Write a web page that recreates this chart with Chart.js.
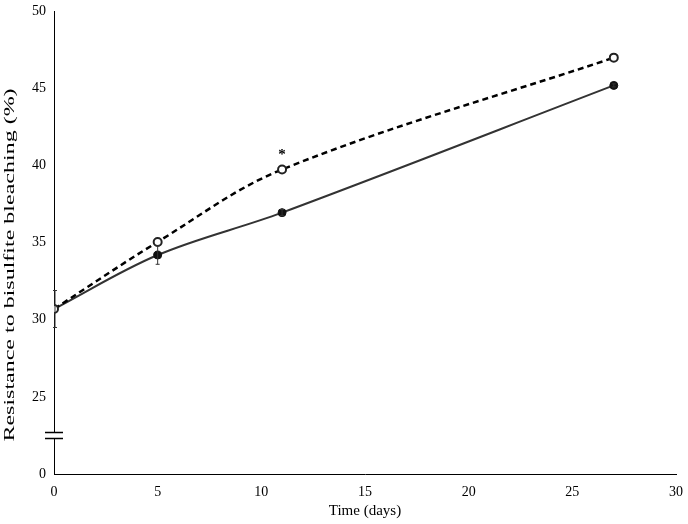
<!DOCTYPE html>
<html>
<head>
<meta charset="utf-8">
<script src="https://cdn.jsdelivr.net/npm/chart.js@4"></script>
<style>
  body { margin: 0; background: #fff; }
  #wrap { width: 688px; height: 524px; }
</style>
</head>
<body>
<div id="wrap"><canvas id="myChart" width="688" height="524"></canvas></div>
<script>
// x values (days)
const days = [0, 5, 11, 27];
// dashed series, open circles
const openVals = [30.7, 35.05, 39.75, 47.0];
// solid series, filled circles
const filledVals = [30.7, 34.2, 36.95, 45.2];
const filledErr = [1.2, 0.6, 0.2, 0.1];
// y ticks shown (the axis is broken between 0 and 25, so 0 sits where 20 would be)
const yTicks = [20, 25, 30, 35, 40, 45, 50];
const yTickLabels = ["0", "25", "30", "35", "40", "45", "50"];
const xTicks = [0, 5, 10, 15, 20, 25, 30];
const yTitle = "Resistance to bisulfite bleaching (%)";
const starAt = { x: 11, y: 40.85 };

const font = "Liberation Serif";

const extras = {
  id: "extras",
  afterDatasetsDraw(chart) {
    const ctx = chart.ctx;
    const xs = chart.scales.x;
    const ys = chart.scales.y;
    ctx.save();
    // error bars on the solid series
    ctx.strokeStyle = "#333";
    ctx.lineWidth = 1;
    filledVals.forEach((v, i) => {
      const px = xs.getPixelForValue(days[i]) + (i === 0 ? 1 : 0);
      const top = ys.getPixelForValue(v + filledErr[i]);
      const bot = ys.getPixelForValue(v - filledErr[i]);
      ctx.beginPath();
      ctx.moveTo(px, top); ctx.lineTo(px, bot);
      ctx.moveTo(px - 2, top); ctx.lineTo(px + 2, top);
      ctx.moveTo(px - 2, bot); ctx.lineTo(px + 2, bot);
      ctx.stroke();
    });
    // asterisk
    ctx.fillStyle = "#000";
    ctx.font = "bold 15px " + font;
    ctx.textAlign = "center";
    ctx.textBaseline = "middle";
    ctx.fillText("*", xs.getPixelForValue(starAt.x), ys.getPixelForValue(starAt.y) + 3);
    // axis break marks
    const bx = xs.left;
    const by = ys.getPixelForValue(22.5);
    ctx.fillStyle = "#fff";
    ctx.fillRect(bx - 3, by - 3, 6, 6);
    ctx.strokeStyle = "#000";
    ctx.lineWidth = 1.5;
    ctx.beginPath();
    ctx.moveTo(bx - 9, by - 3); ctx.lineTo(bx + 9, by - 3);
    ctx.moveTo(bx - 9, by + 3); ctx.lineTo(bx + 9, by + 3);
    ctx.stroke();
    // y title, stretched along its length like the original
    ctx.fillStyle = "#000";
    ctx.translate(10, 265);
    ctx.rotate(-Math.PI / 2);
    ctx.scale(1.6, 1);
    ctx.font = "15px " + font;
    ctx.fillText(yTitle, 0, 0);
    ctx.restore();
  }
};

new Chart(document.getElementById("myChart").getContext("2d"), {
  type: "line",
  data: {
    datasets: [
      {
        label: "open",
        data: days.map((d, i) => ({ x: d, y: openVals[i] })),
        borderColor: "#000",
        borderWidth: 2.5,
        borderDash: [6, 4],
        tension: 0.35,
        pointRadius: 4,
        pointBackgroundColor: "#fff",
        pointBorderColor: "#222",
        pointBorderWidth: 2
      },
      {
        label: "filled",
        data: days.map((d, i) => ({ x: d, y: filledVals[i] })),
        borderColor: "#333",
        borderWidth: 2,
        tension: 0.35,
        pointRadius: 4,
        pointBackgroundColor: "#111",
        pointBorderColor: "#111",
        pointBorderWidth: 1
      }
    ]
  },
  options: {
    responsive: false,
    animation: false,
    layout: { padding: { top: 6, right: 5, left: 0, bottom: 0 } },
    plugins: { legend: { display: false }, tooltip: { enabled: false } },
    scales: {
      x: {
        type: "linear",
        min: 0,
        max: 30,
        afterBuildTicks: (s) => { s.ticks = xTicks.map(v => ({ value: v })); },
        grid: { display: false, drawTicks: true, tickLength: 5, tickColor: "#000" },
        border: { color: "#000", width: 1 },
        ticks: { color: "#000", font: { family: font, size: 14 }, padding: 5 },
        title: { display: true, text: "Time (days)", color: "#000", font: { family: font, size: 15 }, padding: { top: 6 } },
        afterFit: (s) => { s.height = 50; }
      },
      y: {
        min: 20,
        max: 50,
        afterBuildTicks: (s) => { s.ticks = yTicks.map(v => ({ value: v })); },
        grid: { display: false, drawTicks: true, tickLength: 5, tickColor: "#000" },
        border: { color: "#000", width: 1 },
        ticks: {
          color: "#000",
          font: { family: font, size: 14 },
          padding: 3,
          callback: (v) => yTickLabels[yTicks.indexOf(v)]
        },
        title: { display: false },
        afterFit: (s) => { s.width = 54; }
      }
    }
  },
  plugins: [extras]
});
</script>
</body>
</html>
